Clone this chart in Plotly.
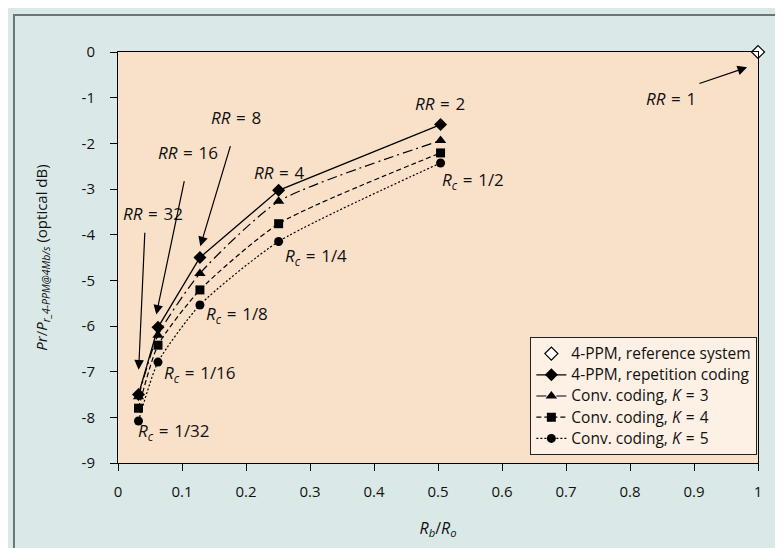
import plotly.graph_objects as go

# ---- data ----
rb_ro = [0.032, 0.0625, 0.128, 0.251, 0.504]
rep_coding = [-7.5, -6.03, -4.5, -3.03, -1.59]
conv_k3 = [-7.55, -6.2, -4.85, -3.27, -1.94]
conv_k4 = [-7.8, -6.42, -5.21, -3.76, -2.21]
conv_k5 = [-8.08, -6.79, -5.54, -4.15, -2.43]
ref_x = [1.0]
ref_y = [0.0]

x_ticks = [0, 0.1, 0.2, 0.3, 0.4, 0.5, 0.6, 0.7, 0.8, 0.9, 1]
x_tick_labels = ["0", "0.1", "0.2", "0.3", "0.4", "0.5", "0.6", "0.7", "0.8", "0.9", "1"]
y_ticks = [0, -1, -2, -3, -4, -5, -6, -7, -8, -9]
y_tick_labels = ["0", "-1", "-2", "-3", "-4", "-5", "-6", "-7", "-8", "-9"]

SP = "\u2004"  # slightly wider space around "="
series_names = [
    "4-PPM, reference system",
    "4-PPM, repetition coding",
    f"Conv. coding, <i>K</i>{SP}={SP}3",
    f"Conv. coding, <i>K</i>{SP}={SP}4",
    f"Conv. coding, <i>K</i>{SP}={SP}5",
]

FONT = "Open Sans"
BG = "#DAE9E8"
PLOT_BG = "#F9E1C9"


def legend_text(s):
    return f'<span style="font-size:15.5px">{s}</span>'


fig = go.Figure()

fig.add_trace(go.Scatter(
    x=ref_x, y=ref_y, mode="markers", name=legend_text(series_names[0]), cliponaxis=False,
    marker=dict(symbol="diamond", size=10, color="white", line=dict(color="black", width=1.2)),
))
fig.add_trace(go.Scatter(
    x=rb_ro, y=rep_coding, mode="lines+markers", name=legend_text(series_names[1]), cliponaxis=False,
    line=dict(color="black", width=1.3),
    marker=dict(symbol="diamond", size=10, color="black"),
))
fig.add_trace(go.Scatter(
    x=rb_ro, y=conv_k3, mode="lines+markers", name=legend_text(series_names[2]), cliponaxis=False,
    line=dict(color="black", width=1.2, dash="10px,4px,2px,4px", shape="spline", smoothing=0.6),
    marker=dict(symbol="triangle-up", size=10, color="black"),
))
fig.add_trace(go.Scatter(
    x=rb_ro, y=conv_k4, mode="lines+markers", name=legend_text(series_names[3]), cliponaxis=False,
    line=dict(color="black", width=1.2, dash="5px,3px", shape="spline", smoothing=0.6),
    marker=dict(symbol="square", size=9, color="black"),
))
fig.add_trace(go.Scatter(
    x=rb_ro, y=conv_k5, mode="lines+markers", name=legend_text(series_names[4]), cliponaxis=False,
    line=dict(color="black", width=1.2, dash="2px,2px", shape="spline", smoothing=0.6),
    marker=dict(symbol="circle", size=9, color="black"),
))

# ---- annotations ----
ann_font = dict(family=FONT, size=17, color="#111")
labels = [
    (f"<i>RR</i>{SP}={SP}1", 0.864, -1.01),
    (f"<i>RR</i>{SP}={SP}2", 0.503, -1.12),
    (f"<i>RR</i>{SP}={SP}4", 0.251, -2.63),
    (f"<i>RR</i>{SP}={SP}8", 0.185, -1.445),
    (f"<i>RR</i>{SP}={SP}16", 0.109, -2.19),
    (f"<i>RR</i>{SP}={SP}32", 0.0552, -3.53),
    (f"<i>R<sub>c</sub></i>{SP}={SP}1/2", 0.555, -2.82),
    (f"<i>R<sub>c</sub></i>{SP}={SP}1/4", 0.310, -4.47),
    (f"<i>R<sub>c</sub></i>{SP}={SP}1/8", 0.186, -5.75),
    (f"<i>R<sub>c</sub></i>{SP}={SP}1/16", 0.1277, -7.05),
    (f"<i>R<sub>c</sub></i>{SP}={SP}1/32", 0.0872, -8.32),
]
annotations = []
for text, x, y in labels:
    annotations.append(dict(x=x, y=y, xref="x", yref="y", text=text, showarrow=False,
                            font=ann_font, xanchor="center", yanchor="middle"))

arrows = [
    # tip x, tip y, tail x, tail y
    (0.983, -0.335, 0.903, -0.716),
    (0.1286, -4.255, 0.181, -1.81),
    (0.0598, -5.75, 0.1073, -2.577),
    (0.0323, -6.956, 0.0427, -3.707),
]
for tx, ty, sx, sy in arrows:
    annotations.append(dict(x=tx, y=ty, xref="x", yref="y", ax=sx, ay=sy, axref="x", ayref="y",
                            text=" ", showarrow=True, arrowhead=2, arrowsize=1.6,
                            arrowwidth=1.2, arrowcolor="black"))

fig.update_layout(
    width=783, height=548,
    margin=dict(l=110, r=33, t=44, b=93),
    paper_bgcolor=BG,
    plot_bgcolor=PLOT_BG,
    font=dict(family=FONT, size=15, color="#111"),
    showlegend=True,
    legend=dict(
        x=0.999, y=0.0195, xanchor="right", yanchor="bottom",
        bgcolor="#FDF0E5", bordercolor="#222", borderwidth=1,
        font=dict(family=FONT, size=14, color="#111"),
        itemwidth=30, tracegroupgap=0,
    ),
    annotations=annotations,
    shapes=[
        dict(type="rect", xref="paper", yref="paper",
             x0=(6 - 110) / 640, x1=(820 - 110) / 640,
             y0=(455 - 580) / 411, y1=(455 - 7) / 411,
             line=dict(color="#6B7574", width=2), fillcolor="rgba(0,0,0,0)", layer="below"),
    ],
)

fig.update_xaxes(
    range=[0, 1], tickvals=x_ticks, ticktext=x_tick_labels,
    showline=True, mirror=True, linecolor="black", linewidth=1,
    ticks="outside", ticklen=7, tickcolor="black", tickwidth=1,
    ticklabelstandoff=8, showgrid=False, zeroline=False,
    tickfont=dict(family=FONT, size=15, color="#111"),
    title=dict(text="<i>R<sub>b</sub></i>/<i>R<sub>o</sub></i>", standoff=22,
               font=dict(family=FONT, size=16, color="#111")),
)
fig.update_yaxes(
    range=[-9, 0], tickvals=y_ticks, ticktext=y_tick_labels,
    showline=True, mirror=True, linecolor="black", linewidth=1,
    ticks="outside", ticklen=7, tickcolor="black", tickwidth=1,
    ticklabelstandoff=12, showgrid=False, zeroline=False,
    tickfont=dict(family=FONT, size=15, color="#111"),
    title=dict(text="<i>Pr</i>/<i>P<sub>r_4-PPM@4Mb/s</sub></i> (optical dB)", standoff=30,
               font=dict(family=FONT, size=15, color="#111")),
)

fig.write_html("out.html")
